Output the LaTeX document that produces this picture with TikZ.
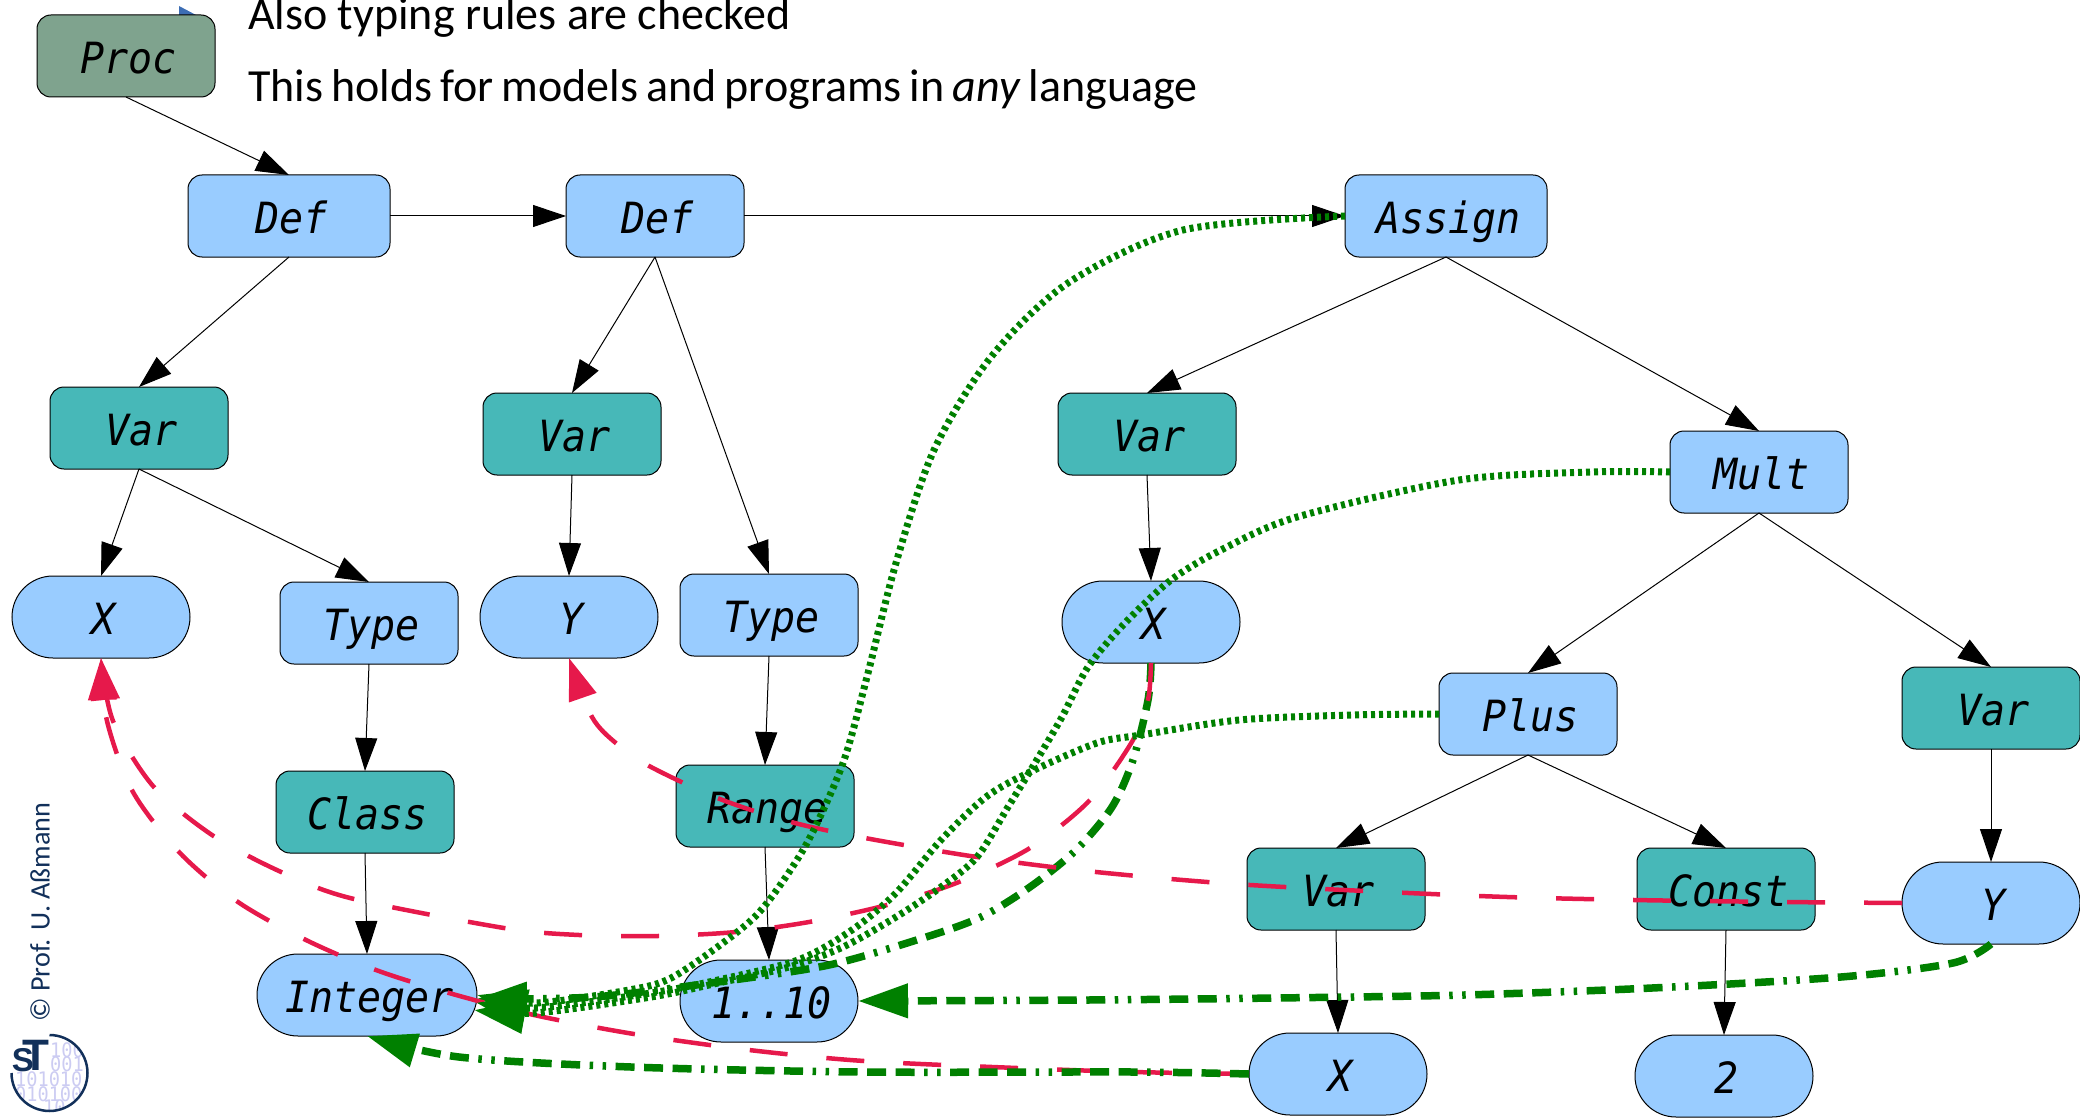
\documentclass[tikz,border=0pt]{standalone}
\usepackage{fontspec}
\setmainfont{Carlito}
\setmonofont{DejaVu Sans Mono}[FakeStretch=.93]
\newfontfamily\logofont{Liberation Sans}
\usetikzlibrary{arrows.meta}
\usetikzlibrary{shapes.misc}

\definecolor{boxblue}{HTML}{99CCFF}
\definecolor{boxteal}{HTML}{47B8B8}
\definecolor{boxgreen}{HTML}{7FA38E}
\definecolor{usegreen}{HTML}{008000}
\definecolor{refred}{HTML}{E6194B}
\definecolor{stnavy}{HTML}{12305A}
\definecolor{stdigit}{HTML}{CCCCF2}

\tikzset{
	astnode/.style={draw=black,line width=1pt,rounded corners=14pt,minimum width=178pt,minimum height=82pt,inner sep=0pt,outer sep=0pt,text height=35pt,text depth=0pt,execute at begin node=\hspace{5pt},font=\fontsize{43}{48}\selectfont\ttfamily\itshape},
	leafnode/.style={astnode,rounded corners=0pt,rounded rectangle,fill=boxblue},
	bluenode/.style={astnode,fill=boxblue},
	tealnode/.style={astnode,fill=boxteal},
	treeedge/.style={->,line width=1pt},
	refedge/.style={-{Triangle[length=42pt,width=28pt]},draw=refred,line width=4.5pt,dash pattern=on 38pt off 39pt},
	dotedge/.style={-{Triangle[length=50pt,width=33pt]},draw=usegreen,line width=7pt,dash pattern=on 4pt off 4pt},
	dashdotedge/.style={-{Triangle[length=50pt,width=33pt]},draw=usegreen,line width=7.5pt,dash pattern=on 19pt off 9.5pt on 19pt off 9.5pt on 19pt off 9.5pt on 3.5pt off 9.5pt on 3.5pt off 9.5pt},
	digits/.style={text=stdigit,inner sep=0pt,font=\fontsize{20}{22}\selectfont\ttfamily}
}

\begin{document}
\begin{tikzpicture}[>={Triangle[length=33pt,width=22pt]},x=1pt,y=-1pt]
	\useasboundingbox (0,0) rectangle (2080,1118);

	\fill[fill={rgb,255:red,60;green,109;blue,180}] (179,6) -- (196,15) -- (179,15) -- cycle;

	\node [anchor=base west,inner sep=0pt,font=\fontsize{46}{50}\selectfont] at (248,30) (line_rules) {Also typing rules are checked};
	\node [anchor=base west,inner sep=0pt,font=\fontsize{46}{50}\selectfont] at (248,102) (line_lang) {\spaceskip=8pt\relax This holds for models and programs in \textit{any} language};

	\node [astnode,fill=boxgreen] at (126,56) (proc) {Proc};

	\node [bluenode,minimum width=202pt] at (289,216) (def0) {Def};
	\node [bluenode] at (655,216) (def1) {Def};
	\node [bluenode,minimum width=202pt] at (1446,216) (assign) {Assign};

	\node [tealnode] at (139,428) (var0) {Var};
	\node [tealnode] at (572,434) (var1) {Var};
	\node [tealnode] at (1147,434) (var2) {Var};
	\node [bluenode] at (1759,472) (mult) {Mult};

	\node [leafnode] at (101,617) (x0) {X};
	\node [bluenode] at (369,623) (type0) {Type};
	\node [leafnode] at (569,617) (y0) {Y};
	\node [bluenode] at (769,615) (type1) {Type};
	\node [leafnode] at (1151,622) (x1) {X};

	\node [bluenode] at (1528,714) (plus) {Plus};
	\node [tealnode] at (1991,708) (var4) {Var};
	\node [tealnode] at (365,812) (class) {Class};
	\node [tealnode] at (765,806) (range) {Range};
	\node [tealnode] at (1336,889) (var3) {Var};
	\node [tealnode] at (1726,889) (const) {Const};
	\node [leafnode] at (1991,903) (y1) {Y};

	\node [leafnode,minimum width=220pt] at (367,995) (integer) {Integer};
	\node [leafnode] at (769,1001) (range_val) {1..10};
	\node [leafnode] at (1338,1074) (x2) {X};
	\node [leafnode] at (1724,1076) (two) {2};

	\draw[treeedge] (proc.south) -- (def0.north);
	\draw[treeedge] (def0.east) -- (def1.west);
	\draw[treeedge] (def1.east) -- (assign.west);
	\draw[treeedge] (def0.south) -- (var0.north);
	\draw[treeedge] (var0.south) -- (x0.north);
	\draw[treeedge] (var0.south) -- (type0.north);
	\draw[treeedge] (type0.south) -- (class.north);
	\draw[treeedge] (class.south) -- (integer.north);
	\draw[treeedge] (def1.south) -- (var1.north);
	\draw[treeedge] (def1.south) -- (type1.north);
	\draw[treeedge] (var1.south) -- (y0.north);
	\draw[treeedge] (type1.south) -- (range.north);
	\draw[treeedge] (range.south) -- (range_val.north);
	\draw[treeedge] (assign.south) -- (var2.north);
	\draw[treeedge] (assign.south) -- (mult.north);
	\draw[treeedge] (var2.south) -- (x1.north);
	\draw[treeedge] (mult.south) -- (plus.north);
	\draw[treeedge] (mult.south) -- (var4.north);
	\draw[treeedge] (plus.south) -- (var3.north);
	\draw[treeedge] (plus.south) -- (const.north);
	\draw[treeedge] (var3.south) -- (x2.north);
	\draw[treeedge] (const.south) -- (two.north);
	\draw[treeedge] (var4.south) -- (y1.north);

	% uses to declarations
	\draw[dashdotedge] plot[smooth] coordinates {(x1.south) (1148,700) (1133,760) (1112,807) (1076,850) (1030,887) (981,917) (923,938) (829,965) (718,982) (593,997) (integer.-2)};

	\draw[refedge] plot[smooth] coordinates {(x1.south) (1148,700) (1133,740) (1090,800) (1030,848) (959,882) (887,905) (809,922) (736,932) (658,936) (579,935) (504,928) (350,898) (279,871) (212,835) (153,786) (113,721) (x0.south)};
	\draw[refedge] plot[smooth] coordinates {(x2.west) (1133,1072) (1017,1068) (864,1061) (749,1050) (634,1034) (534,1015) (449,993) (376,970) (306,940) (238,902) (180,853) (133,792) (107,721) (x0.south)};
	\draw[refedge] plot[smooth] coordinates {(y1.west) (1784,902) (1634,900) (1479,896) (1250,885) (1096,872) (977,857) (865,838) (791,822) (720,799) (651,767) (617,744) (592,717) (y0.south)};

	\draw[dashdotedge] plot[smooth] coordinates {(x2.west) (1133,1072) (861,1072) (631,1067) (459,1057) (integer.south)};
	\draw[dashdotedge] plot[smooth] coordinates {(y1.south) (1953,963) (1841,977) (1652,988) (1464,995) (1276,998) (1088,1000) (range_val.east)};

	\draw[dotedge] plot[smooth] coordinates {(assign.west) (1183,230) (1068,283) (991,357) (934,450) (896,563) (867,677) (843,763) (807,843) (767,903) (736,933) (673,977) (629,990) (535,1003) (integer.0)};
	\draw[dotedge] plot[smooth] coordinates {(mult.west) (1592,472) (1459,480) (1297,517) (1221,550) (1171,580) (1125,623) (1088,667) (1062,717) (1035,763) (1008,807) (977,857) (941,887) (896,917) (843,947) (789,967) (718,983) (651,997) (535,1013) (integer.-8)};
	\draw[dotedge] plot[smooth] coordinates {(plus.west) (1351,715) (1239,720) (1141,735) (1097,743) (1030,772) (986,797) (941,840) (896,893) (852,930) (798,960) (718,980) (651,993) (535,1008) (integer.-4)};

	% logo and credit
	\node [rotate=90,inner sep=0pt,text=stnavy,font=\fontsize{28.2}{30}\selectfont] at (40,912) (credit) {© Prof. U. Aßmann};

	\begin{scope}
		\clip (49.5,1073) circle (38);
		\node [digits,anchor=west] at (50,1050) (digits_a) {100};
		\node [digits,anchor=west] at (50,1064) (digits_b) {001};
		\node [digits,anchor=west] at (15,1079) (digits_c) {101010};
		\node [digits,anchor=west] at (15,1094) (digits_d) {010100};
		\node [digits,anchor=west] at (43,1107) (digits_e) {10};
	\end{scope}
	\draw[stnavy,line width=2.5pt] (49.5,1035) arc[start angle=-90,end angle=180,radius=38];
	\node [inner sep=0pt,text=stnavy,font=\fontsize{33}{33}\selectfont\logofont\bfseries] at (23,1060) (logo_s) {S};
	\node [inner sep=0pt,text=stnavy,font=\fontsize{44}{44}\selectfont\logofont\bfseries] at (36,1055) (logo_t) {T};
\end{tikzpicture}
\end{document}
